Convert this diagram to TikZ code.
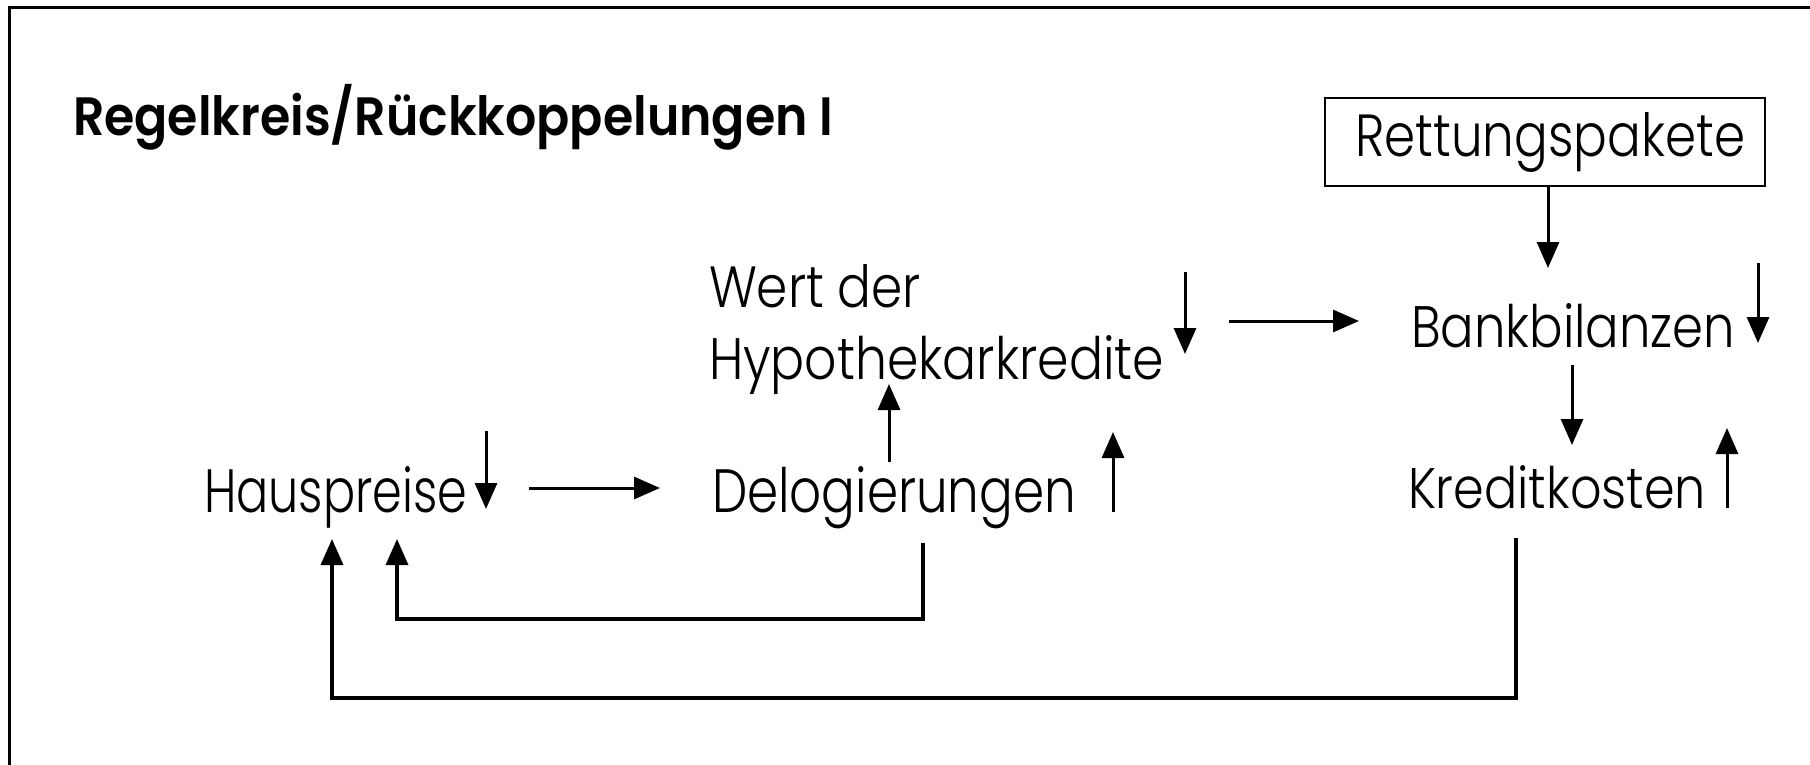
\documentclass[tikz,border=0pt]{standalone}
\usepackage{fontspec}
\usepackage{graphicx}
\usetikzlibrary{arrows.meta}
\newfontfamily\lf{Poppins Light}
\newfontfamily\mf{Poppins SemiBold}
\newcommand\fitt[3]{\resizebox{#1pt}{#2pt}{#3}}
\begin{document}
\begin{tikzpicture}[x=1pt,y=-1pt,
  lbl/.style={anchor=base west, inner sep=0pt, outer sep=0pt, font=\lf},
  arr/.style={-{Triangle[width=22pt,length=26pt]}, line width=3pt},
  fb/.style={-{Triangle[width=22pt,length=26pt]}, line width=3.5pt, line join=miter},
  frame/.style={line width=3pt}]
\useasboundingbox (0,0) rectangle (1810,765);
\fill[white] (0,0) rectangle (1810,765);
\draw[frame] (9,765) -- (9,8) -- (1810,8);

% texts
\node[lbl] (title) at (73,136) {\resizebox{760pt}{\height}{\fontsize{54pt}{54pt}\mf Regelkreis/Rückkoppelungen I}};
\node[draw, line width=2.5pt, minimum width=440pt, minimum height=88pt, inner sep=0pt] (rett) at (1545,142) {};
\node[lbl] (retttext) at (1355,157) {\fitt{390}{44}{Rettungspakete}};
\node[lbl] (wert) at (709,307) {\fitt{212}{43}{Wert der}};
\node[lbl] (hypo) at (709,379) {\fitt{455}{44}{Hypothekarkredite}};
\node[lbl] (haus) at (204,512) {\fitt{263}{46}{Hauspreise}};
\node[lbl] (delo) at (712,512) {\fitt{364}{46}{Delogierungen}};
\node[lbl] (bank) at (1411,347) {\fitt{324}{44}{Bankbilanzen}};
\node[lbl] (kred) at (1408,508) {\fitt{298}{43}{Kreditkosten}};

% coordinates
\coordinate (a1s) at (486,431); \coordinate (a1e) at (486,509);
\coordinate (a2s) at (529,488); \coordinate (a2e) at (660,488);
\coordinate (a3s) at (1113,512); \coordinate (a3e) at (1113,432);
\coordinate (a4s) at (889,462); \coordinate (a4e) at (889,384);
\coordinate (a5s) at (1185,272); \coordinate (a5e) at (1185,354);
\coordinate (a6s) at (1229,321); \coordinate (a6e) at (1359,321);
\coordinate (a7s) at (1758,263); \coordinate (a7e) at (1758,343);
\coordinate (a8e) at (1548,268);
\coordinate (a9s) at (1572,365); \coordinate (a9e) at (1572,445);
\coordinate (a10s) at (1727,508); \coordinate (a10e) at (1727,428);
\coordinate (f1s) at (923,543); \coordinate (f1e) at (397,539);
\coordinate (f2s) at (1516,538); \coordinate (f2e) at (332,539);

% arrows
\draw[arr] (a1s) -- (a1e);
\draw[arr] (a2s) -- (a2e);
\draw[arr] (a3s) -- (a3e);
\draw[arr] (a4s) -- (a4e);
\draw[arr] (a5s) -- (a5e);
\draw[arr] (a6s) -- (a6e);
\draw[arr] (a7s) -- (a7e);
\draw[arr] (rett.south -| a8e) -- (a8e);
\draw[arr] (a9s) -- (a9e);
\draw[arr] (a10s) -- (a10e);
\draw[fb] (f1s) -- (923,619) -- (397,619) -- (f1e);
\draw[fb] (f2s) -- (1516,698) -- (332,698) -- (f2e);
\end{tikzpicture}
\end{document}
